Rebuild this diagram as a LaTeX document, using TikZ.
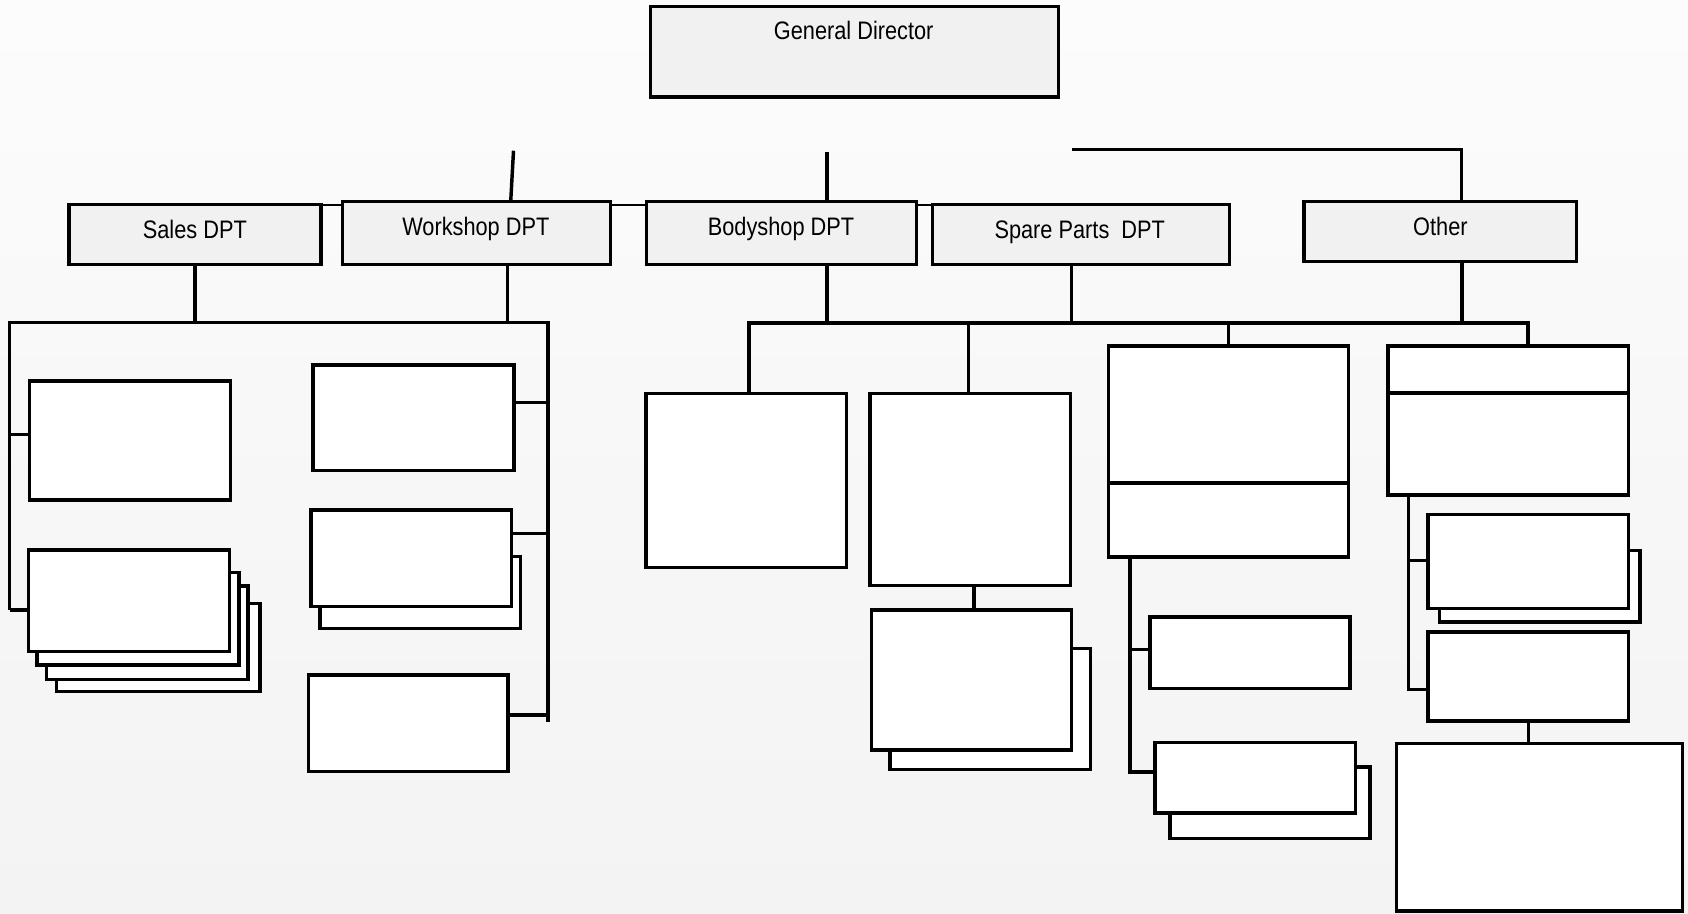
\documentclass[tikz,border=0pt]{standalone}
\usepackage{fontspec}
\newfontfamily\lblfont[FakeStretch=0.86]{Liberation Sans}
\definecolor{deptgray}{HTML}{F1F1F1}
\definecolor{bgtop}{HTML}{FCFCFC}
\definecolor{bgbot}{HTML}{F3F3F3}
\tikzset{
  bx/.style={draw=black, line width=3.2pt, fill=white, inner sep=0pt, outer sep=0pt, rectangle},
  dept/.style={bx, fill=deptgray},
  lbl/.style={anchor=base, inner sep=0pt, outer sep=0pt, font=\lblfont\fontsize{23.5}{27}\selectfont},
  ln/.style={line width=3.2pt},
  thinln/.style={line width=1.6pt},
}
\newcommand{\mkbox}[6]{\node[#1, minimum width={#4-#2}, minimum height={#5-#3}] (#6) at ({(#2+#4)/2},{(#3+#5)/2}) {};}
\begin{document}
\begin{tikzpicture}[x=1pt,y=-1pt]
\useasboundingbox (0,0) rectangle (1568,849);
\fill[top color=bgtop, bottom color=bgbot] (0,0) rectangle (1568,849);

% top level
\mkbox{dept}{604}{6}{983}{90}{gd}
\node[lbl] (gdl) at (793,36.5) {General Director};

% department boxes
\mkbox{dept}{64}{190}{298}{245.5}{sales}
\mkbox{dept}{318}{187.3}{567}{245.5}{work}
\mkbox{dept}{600.5}{187.3}{851.4}{245.5}{body}
\mkbox{dept}{866}{190.1}{1142}{245.5}{spare}
\mkbox{dept}{1211.3}{187.3}{1464.3}{243.1}{other}
\node[lbl] (salesl) at (181,221.4) {Sales DPT};
\node[lbl] (workl) at (442,219.2) {Workshop DPT};
\node[lbl] (bodyl) at (725.5,219.2) {Bodyshop DPT};
\node[lbl] (sparel) at (1003,221.4) {Spare Parts\ \ DPT};
\node[lbl] (otherl) at (1338,219.2) {Other};

% lines above departments
\coordinate (aTop) at (477,140);
\coordinate (aBot) at (474.4,187.3);
\coordinate (bTop) at (768,140.9);
\coordinate (cTop) at (995.7,138.7);
\coordinate (cCor) at (1357.7,138.7);
\draw[ln] (aTop) -- (aBot);
\draw[ln] (bTop) -- (bTop |- body.north);
\draw[ln] (cTop) -- (cCor) -- (cCor |- other.north);
\coordinate (thinY) at (0,190.4);
\draw[thinln] (thinY -| sales.east) -- (thinY -| work.west);
\draw[thinln] (thinY -| work.east) -- (thinY -| body.west);
\draw[thinln] (thinY -| body.east) -- (thinY -| spare.west);

% ---------- left group ----------
\mkbox{bx}{27.4}{353.9}{214}{464.5}{l1}
\mkbox{bx}{52.3}{560.4}{241.7}{642.5}{l2d}
\mkbox{bx}{43.4}{544.4}{230.4}{631}{l2c}
\mkbox{bx}{34.5}{532}{222}{617.8}{l2b}
\mkbox{bx}{26.7}{511}{213.3}{605}{l2a}
\mkbox{bx}{290.8}{339}{477.5}{437}{w1}
\mkbox{bx}{297.2}{517}{483.5}{583.7}{w2b}
\mkbox{bx}{288.7}{473.8}{475.3}{563.5}{w2a}
\mkbox{bx}{286.6}{627}{472}{716.8}{w3}

\coordinate (jl) at (8.9,299.7);
\coordinate (jr) at (509,299.7);
\coordinate (jrb) at (509,670.4);
\coordinate (wd) at (471.5,299.7);
\coordinate (tL1) at (8.9,403.5);
\coordinate (tL2) at (8.9,566.6);
\coordinate (tW1) at (509,374);
\coordinate (tW2) at (509,495.4);
\coordinate (tW3) at (509,664.2);
\draw[ln] (sales.south) -- (sales.south |- jl);
\draw[ln] (wd |- work.south) -- (wd);
\draw[ln] (tL2) -- (jl) -- (jr) -- (jrb);
\draw[ln] (tL1) -- (tL1 -| l1.west);
\draw[ln] (tL2) -- (tL2 -| l2a.west);
\draw[ln] (tW1) -- (tW1 -| w1.east);
\draw[ln] (tW2) -- (tW2 -| w2a.east);
\draw[ln] (tW3) -- (tW3 -| w3.east);

% ---------- right group ----------
\mkbox{bx}{600}{365.4}{786.5}{527.3}{b1}
\mkbox{bx}{808.2}{365.4}{994.6}{544}{b2}
\mkbox{bx}{826.8}{602.3}{1013.2}{714.6}{b3b}
\mkbox{bx}{809.7}{566.6}{995.5}{696.7}{b3a}
\mkbox{bx}{1029.5}{321.6}{1252.8}{517.6}{s1}
\mkbox{bx}{1068.2}{573.3}{1254.1}{639.5}{s2}
\mkbox{bx}{1087}{712.6}{1272.6}{778.8}{s3b}
\mkbox{bx}{1073}{689.6}{1259}{755.2}{s3a}
\mkbox{bx}{1289.4}{321.6}{1512.9}{459.8}{o1}
\mkbox{bx}{1337.4}{511.5}{1523.5}{577.6}{o2b}
\mkbox{bx}{1326.6}{477.7}{1512.9}{565.3}{o2a}
\mkbox{bx}{1326.6}{587.1}{1512.9}{669.7}{o3}
\mkbox{bx}{1297}{690.8}{1562.7}{846.1}{o4}

% dividers
\coordinate (sdiv) at (0,448.6);
\coordinate (odiv) at (0,365.2);
\draw[ln] (sdiv -| s1.west) -- (sdiv -| s1.east);
\draw[ln] (odiv -| o1.west) -- (odiv -| o1.east);

\coordinate (jrl) at (695.8,300);
\coordinate (jrr) at (1419.3,300);
\coordinate (bd) at (768,300);
\coordinate (sd) at (995.5,300);
\coordinate (od) at (1358,300);
\coordinate (db2) at (899.8,300);
\coordinate (bb) at (904.8,560);
\draw[ln] (bd |- body.south) -- (bd);
\draw[ln] (sd |- spare.south) -- (sd);
\draw[ln] (od |- other.south) -- (od);
\draw[ln] (jrl |- b1.north) -- (jrl) -- (jrr) -- (jrr |- o1.north);
\draw[ln] (db2) -- (db2 |- b2.north);
\draw[ln] (s1.north |- jrr) -- (s1.north);
\draw[ln] (bb |- b2.south) -- (bb |- b3a.north);

\coordinate (ts2) at (1049.7,603.4);
\coordinate (ts3) at (1049.7,717);
\draw[ln] (ts3 |- s1.south) -- (ts3) -- (ts3 -| s3a.west);
\draw[ln] (ts2) -- (ts2 -| s2.west);

\coordinate (to2) at (1308.2,520.6);
\coordinate (to3) at (1308.2,640.6);
\draw[ln] (to3 |- o1.south) -- (to3) -- (to3 -| o3.west);
\draw[ln] (to2) -- (to2 -| o2a.west);
\draw[ln] (o3.south) -- (o3.south |- o4.north);
\end{tikzpicture}
\end{document}
